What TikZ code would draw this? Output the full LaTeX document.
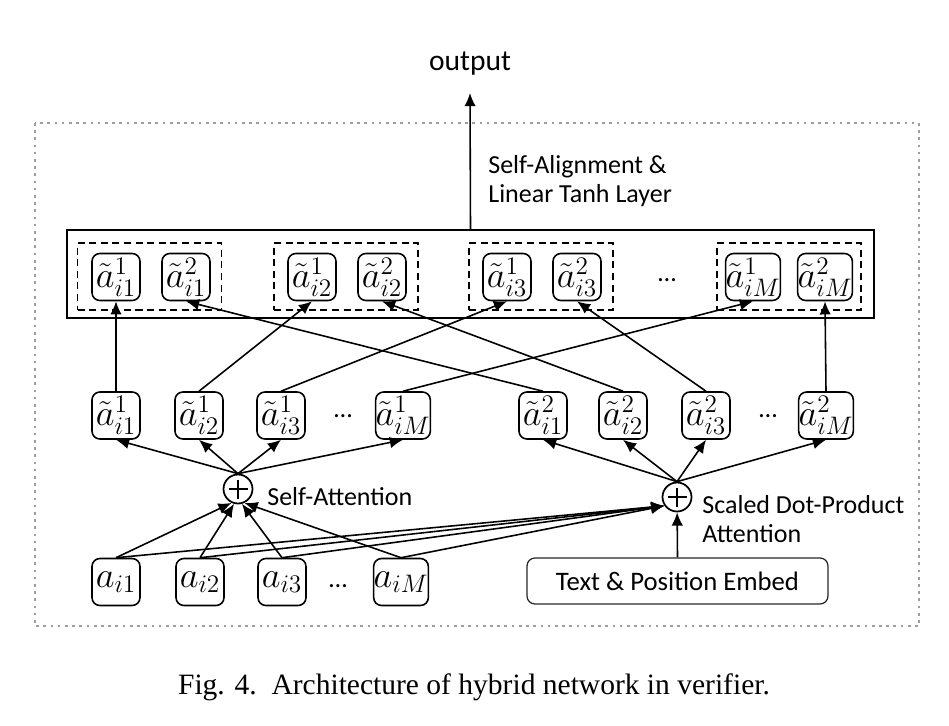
\documentclass[tikz,border=0pt]{standalone}
\usepackage{fontspec}
\setmainfont{Carlito}
\newfontfamily\capfont{Liberation Serif}
\usetikzlibrary{arrows.meta}
\begin{document}
\begin{tikzpicture}[x=0.02cm,y=-0.02cm,
  box/.style={draw, line width=0.9pt, rounded corners=4.5pt, minimum width=0.96cm, minimum height=0.94cm, inner sep=0pt, font=\fontsize{20.74}{22}\selectfont},
  arr/.style={line width=0.9pt, -{Latex[length=7.5pt,width=6.5pt]}},
  lab/.style={font=\fontsize{14.8}{16.6}\selectfont, inner sep=0pt},
  grp/.style={draw, dash pattern=on 4pt off 2.6pt, line width=0.9pt, minimum width=2.88cm, minimum height=1.34cm, inner sep=0pt},
  dotsl/.style={font=\fontsize{14.8}{16.6}\selectfont, inner sep=0pt},
  plus/.style={circle, draw, line width=1pt, minimum size=0.58cm, inner sep=0pt,
    path picture={\draw[line width=1pt] ([xshift=-0.19cm]path picture bounding box.center) -- ([xshift=0.19cm]path picture bounding box.center);
                  \draw[line width=1pt] ([yshift=-0.19cm]path picture bounding box.center) -- ([yshift=0.19cm]path picture bounding box.center);}}
]
\useasboundingbox (0,0) rectangle (949,726);
% dotted frame
\draw[black!38, line width=1.5pt, dash pattern=on 1.5pt off 2.6pt] (35,123) rectangle (919,626);

% output
\node[lab, font=\fontsize{16.8}{18}\selectfont, anchor=base] (out) at (470,71) {output};
\coordinate (otip) at (470,93);

% big layer box
\node[draw, line width=1pt, minimum width=16.14cm, minimum height=1.76cm, inner sep=0pt] (big) at (470.5,274) {};
\node[lab, anchor=west, align=left] (salab) at (488,181) {Self-Alignment \&\\Linear Tanh Layer};

% dashed groups
\node[grp] (g1) at (149.5,276.5) {};
\node[grp] (g2) at (346,276.5) {};
\node[grp] (g3) at (541,276.5) {};
\node[grp] (g4) at (789,276.5) {};

% top row
\node[box] (t11) at (116,277) {$\tilde{a}^{1}_{i1}$};
\node[box] (t21) at (186,277) {$\tilde{a}^{2}_{i1}$};
\node[box] (t12) at (312,277) {$\tilde{a}^{1}_{i2}$};
\node[box] (t22) at (382,277) {$\tilde{a}^{2}_{i2}$};
\node[box] (t13) at (507,277) {$\tilde{a}^{1}_{i3}$};
\node[box] (t23) at (577,277) {$\tilde{a}^{2}_{i3}$};
\node[dotsl] (td) at (667,280) {…};
\node[box] (t1M) at (753,277) {$\tilde{a}^{1}_{iM}$};
\node[box] (t2M) at (825,277) {$\tilde{a}^{2}_{iM}$};

% middle row
\node[box] (m11) at (116,415.5) {$\tilde{a}^{1}_{i1}$};
\node[box] (m12) at (199,415.5) {$\tilde{a}^{1}_{i2}$};
\node[box] (m13) at (281,415.5) {$\tilde{a}^{1}_{i3}$};
\node[dotsl] (md1) at (343,416) {…};
\node[box] (m1M) at (403,415.5) {$\tilde{a}^{1}_{iM}$};
\node[box] (m21) at (543,415.5) {$\tilde{a}^{2}_{i1}$};
\node[box] (m22) at (623,415.5) {$\tilde{a}^{2}_{i2}$};
\node[box] (m23) at (706,415.5) {$\tilde{a}^{2}_{i3}$};
\node[dotsl] (md2) at (768,416) {…};
\node[box] (m2M) at (826,415.5) {$\tilde{a}^{2}_{iM}$};

% plus nodes
\node[plus] (p1) at (238,489) {};
\node[lab, anchor=base west] (salab2) at (267,505) {Self-Attention};
\node[plus] (p2) at (677,497) {};
\node[lab, anchor=west, align=left] (sdlab) at (702,519) {Scaled Dot-Product\\Attention};

% bottom row
\node[box] (b1) at (116,582) {$a_{i1}$};
\node[box] (b2) at (200,582) {$a_{i2}$};
\node[box] (b3) at (282,582) {$a_{i3}$};
\node[dotsl] (bd) at (338,586) {…};
\node[box] (bM) at (401,582) {$a_{iM}$};
\node[draw, black!85, line width=0.7pt, rounded corners=4.5pt, minimum width=6.02cm, minimum height=0.92cm, inner sep=0pt, text=black, font=\fontsize{15.2}{17}\selectfont] (emb) at (677.5,581) {Text \& Position Embed};

% connectors: middle -> top
\draw[arr] (m11.north) -- (t11.south);
\draw[arr] (m12.north) -- (t12.south);
\draw[arr] (m13.north) -- (t13.south);
\draw[arr] (m1M.north) -- (t1M.south);
\draw[arr] (m21.north) -- (t21.south);
\draw[arr] (m22.north) -- (t22.south);
\draw[arr] (m23.north) -- (t23.south);
\draw[arr] (m2M.north) -- (t2M.south);

% plus -> middle
\foreach \n in {m11,m12,m13,m1M} \draw[arr] (p1.north) -- (\n.south);
\foreach \n in {m21,m22,m23,m2M} \draw[arr] (p2.north) -- (\n.south);

% bottom -> plus
\draw[arr] (b1.north) -- (p1.245);
\draw[arr] (b2.north) -- (p1.255);
\draw[arr] (b3.north) -- (p1.285);
\draw[arr] (bM.north) -- (p1.295);
\foreach \n in {b1,b2,b3,bM} \draw[arr] (\n.north) -- (p2.215);
\draw[arr] (emb.north) -- (p2);

% output arrow
\draw[arr] (big.north) -- (otip);

% caption
\node[font=\capfont\fontsize{16.8}{19}\selectfont, anchor=base, inner sep=0pt] (cap) at (474,694) {Fig. 4.\ \ Architecture of hybrid network in verifier.};
\end{tikzpicture}
\end{document}
